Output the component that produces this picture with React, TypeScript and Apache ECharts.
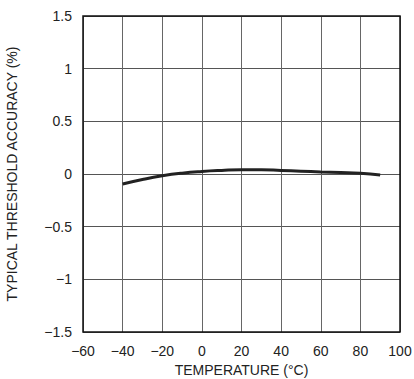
import React, { useEffect, useRef } from "react";
import * as echarts from "echarts";

const temperatures = [-40, -30, -20, -10, 0, 10, 20, 30, 40, 50, 60, 70, 80, 90];
const accuracy = [-0.095, -0.052, -0.017, 0.008, 0.024, 0.034, 0.04, 0.04, 0.034, 0.027, 0.02, 0.014, 0.006, -0.01];
const xTicks = [-60, -40, -20, 0, 20, 40, 60, 80, 100];
const yTicks = [-1.5, -1, -0.5, 0, 0.5, 1, 1.5];

const FONT = "'Liberation Sans Narrow', 'Liberation Sans', Arial, sans-serif";
const minus = (v: number) => String(v).replace("-", "\u2212");

export default function App() {
  const ref = useRef<HTMLDivElement>(null);
  useEffect(() => {
    const chart = echarts.init(ref.current!, null, { renderer: "svg" });
    chart.setOption({
      animation: false,
      backgroundColor: "#fff",
      grid: { left: 83, right: 14, top: 16, bottom: 47, outerBoundsMode: "none", containLabel: false },
      xAxis: {
        type: "value",
        min: xTicks[0],
        max: xTicks[xTicks.length - 1],
        interval: 20,
        name: "TEMPERATURE (\u00B0C)",
        nameLocation: "middle",
        nameGap: 30,
        nameTextStyle: { fontFamily: FONT, fontSize: 14, color: "#222" },
        axisLine: { show: false, onZero: false },
        axisTick: { show: false },
        axisLabel: { formatter: (v: number) => minus(v), fontFamily: FONT, fontSize: 14, color: "#222", margin: 12 },
        splitLine: { show: true, lineStyle: { color: "#666", width: 1 } },
      },
      yAxis: {
        type: "value",
        min: yTicks[0],
        max: yTicks[yTicks.length - 1],
        interval: 0.5,
        name: "TYPICAL THRESHOLD ACCURACY (%)",
        nameLocation: "middle",
        nameGap: 64,
        nameTextStyle: { fontFamily: FONT, fontSize: 14, color: "#222" },
        axisLine: { show: false, onZero: false },
        axisTick: { show: false },
        axisLabel: { formatter: (v: number) => minus(v), fontFamily: FONT, fontSize: 14, color: "#222", margin: 11 },
        splitLine: { show: true, lineStyle: { color: "#555", width: 1 } },
      },
      graphic: [
        {
          type: "rect",
          shape: { x: 83, y: 16, width: 317, height: 316 },
          style: { fill: "none", stroke: "#111", lineWidth: 1.5 },
          z: 10,
        },
      ],
      series: [
        {
          type: "line",
          data: temperatures.map((t, i) => [t, accuracy[i]]),
          smooth: true,
          showSymbol: false,
          lineStyle: { color: "#222", width: 3 },
        },
      ],
    });
    return () => chart.dispose();
  }, []);
  return <div ref={ref} style={{ position: "fixed", left: 0, top: 0, width: 414, height: 379 }} />;
}
